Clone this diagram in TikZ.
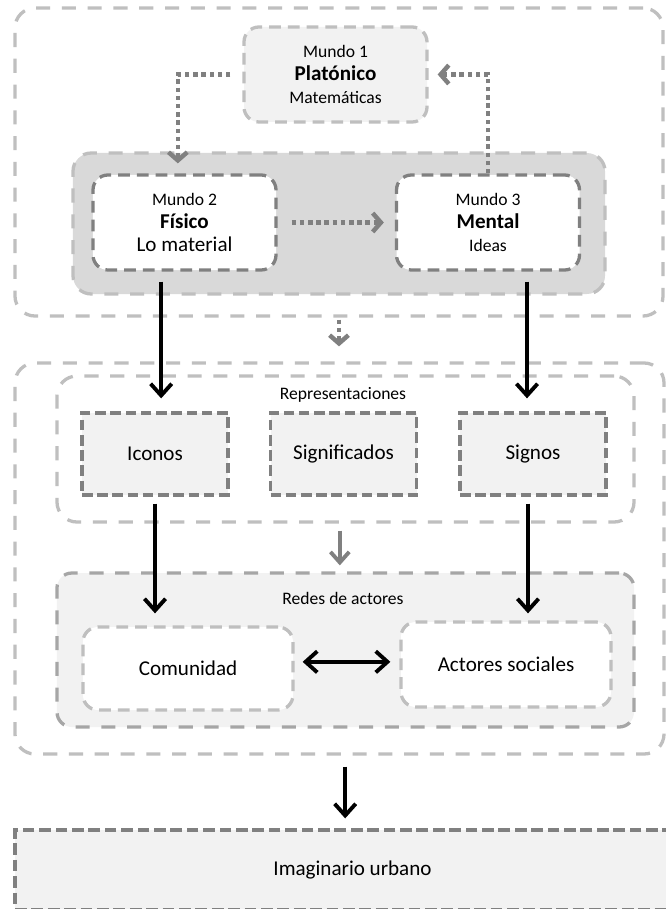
\documentclass[tikz,border=0pt]{standalone}
\usepackage{fontspec}
\setmainfont{Carlito}
\usetikzlibrary{arrows.meta,positioning}

\definecolor{grisclaro}{HTML}{BFBFBF}
\definecolor{grismedio}{HTML}{A6A6A6}
\definecolor{grisoscuro}{HTML}{808080}
\definecolor{fondoclaro}{HTML}{F2F2F2}
\definecolor{fondobanda}{HTML}{D9D9D9}

\newcommand{\chico}{\fontsize{15}{19.6}\selectfont}
\newcommand{\grande}{\fontsize{18}{19.6}\selectfont}

\tikzset{
	marco/.style={draw=grisclaro, line width=2.8pt, dash pattern=on 12pt off 10pt, rounded corners=0.6cm, inner sep=0pt},
	mundo/.style={draw=grisoscuro, fill=white, line width=2.8pt, dash pattern=on 10pt off 6pt, rounded corners=0.45cm, align=center, font=\grande, minimum width=5.49cm, minimum height=2.85cm},
	cajarep/.style={draw=grisoscuro, fill=fondoclaro, line width=2.8pt, dash pattern=on 9pt off 4pt, font=\grande, minimum width=4.38cm, minimum height=2.46cm},
	actor/.style={draw=grisclaro, fill=white, line width=2.8pt, dash pattern=on 10pt off 6pt, rounded corners=0.45cm, font=\grande, minimum width=6.3cm},
	etiqueta/.style={font=\chico, inner sep=0pt},
	punteada/.style={draw=grisoscuro, line width=3.8pt, dash pattern=on 3.8pt off 3.2pt, -{Straight Barb[length=7pt,width=16pt]}},
	negra/.style={draw=black, line width=3.3pt, -{Straight Barb[length=10pt,width=18pt]}},
	gris/.style={draw=grisoscuro, line width=3.3pt, -{Straight Barb[length=9pt,width=16pt]}},
	doble/.style={draw=black, line width=3.3pt, {Straight Barb[length=10pt,width=18pt]}-{Straight Barb[length=10pt,width=18pt]}}
}

\begin{document}
\begin{tikzpicture}[x=0.03cm, y=-0.03cm]
		%%%%% START %%%%%
		\useasboundingbox[fill=white] (0, 0) rectangle (665, 909);
		
		% los tres mundos
		\node[marco, minimum width=19.44cm, minimum height=9.24cm] (marco1) at (339, 162) {};
		\node[mundo, draw=grisclaro, fill=fondoclaro] (mundo1) at (335.5, 74.5) {{\chico Mundo 1}\\{\bfseries Platónico}\\{\chico Matemáticas}};
		\node[marco, fill=fondobanda, rounded corners=0.55cm, minimum width=15.96cm, minimum height=4.23cm] (banda) at (339, 223.5) {};
		\node[mundo] (mundo2) at (184.5, 222.5) {{\chico Mundo 2}\\{\bfseries Físico}\\Lo material};
		\node[mundo] (mundo3) at (488, 222.5) {{\chico Mundo 3}\\{\bfseries Mental}\\{\chico Ideas}};
		
		\draw[punteada] ([xshift=-0.36cm]mundo1.west) -| ([xshift=-0.2cm, yshift=0.3cm]mundo2.north);
		\draw[punteada] (mundo3.north) |- ([xshift=0.27cm]mundo1.east);
		\draw[punteada] ([xshift=0.42cm]mundo2.east) -- ([xshift=-0.33cm]mundo3.west);
		
		% representaciones y redes
		\node[marco, minimum width=19.47cm, minimum height=11.73cm] (marco2) at (339.5, 558.5) {};
		\node[marco, minimum width=17.31cm, minimum height=4.38cm] (repr) at (345.5, 449) {};
		\node[etiqueta] (tituloRep) at (343, 395) {Representaciones};
		\node[cajarep] (iconos) at (155, 454) {Iconos};
		\node[cajarep] (signif) at (343.5, 454) {Significados};
		\node[cajarep] (signos) at (533, 454) {Signos};
		
		\node[marco, draw=grismedio, fill=fondoclaro, rounded corners=0.45cm, minimum width=17.31cm, minimum height=4.62cm] (redes) at (345.5, 650) {};
		\node[etiqueta] (tituloRedes) at (343, 598) {Redes de actores};
		\node[actor, minimum height=2.49cm] (comunidad) at (188, 668.5) {Comunidad};
		\node[actor, minimum height=2.55cm] (actores) at (506, 664.5) {Actores sociales};
		
		\node[cajarep, dash pattern=on 10pt off 4pt, minimum width=20.25cm, minimum height=2.4cm] (imag) at (352.5, 870) {Imaginario urbano};
		
		% flechas
		\draw[punteada, shorten <=0.06cm, shorten >=0.45cm] (marco1.south) -- (marco1.south |- marco2.north);
		
		\coordinate (salidaF) at ([xshift=-0.7cm, yshift=-0.3cm]mundo2.south);
		\coordinate (salidaM) at ([xshift=1.17cm, yshift=-0.3cm]mundo3.south);
		\draw[negra, shorten >=0.39cm] (salidaF) -- (salidaF |- iconos.north);
		\draw[negra, shorten >=0.39cm] (salidaM) -- (salidaM |- signos.north);
		
		\coordinate (bajaS) at ([xshift=-0.15cm]signos.south);
		\draw[negra, shorten <=0.21cm, shorten >=0.36cm] (iconos.south) -- (iconos.south |- comunidad.north);
		\draw[negra, shorten <=0.21cm, shorten >=0.21cm] (bajaS) -- (bajaS |- actores.north);
		
		\coordinate (bajaR) at ([xshift=-0.17cm]repr.south);
		\draw[gris, shorten <=0.21cm, shorten >=0.18cm] (bajaR) -- (bajaR |- redes.north);
		
		\coordinate (ladoC) at ([yshift=0.2cm]comunidad.east);
		\draw[doble, shorten <=0.24cm, shorten >=0.27cm] (ladoC) -- (ladoC -| actores.west);
		
		\coordinate (bajaI) at ([xshift=0.17cm]marco2.south);
		\draw[negra, shorten <=0.33cm, shorten >=0.3cm] (bajaI) -- (bajaI |- imag.north);
		%%%%% END %%%%%
	\end{tikzpicture}
\end{document}
